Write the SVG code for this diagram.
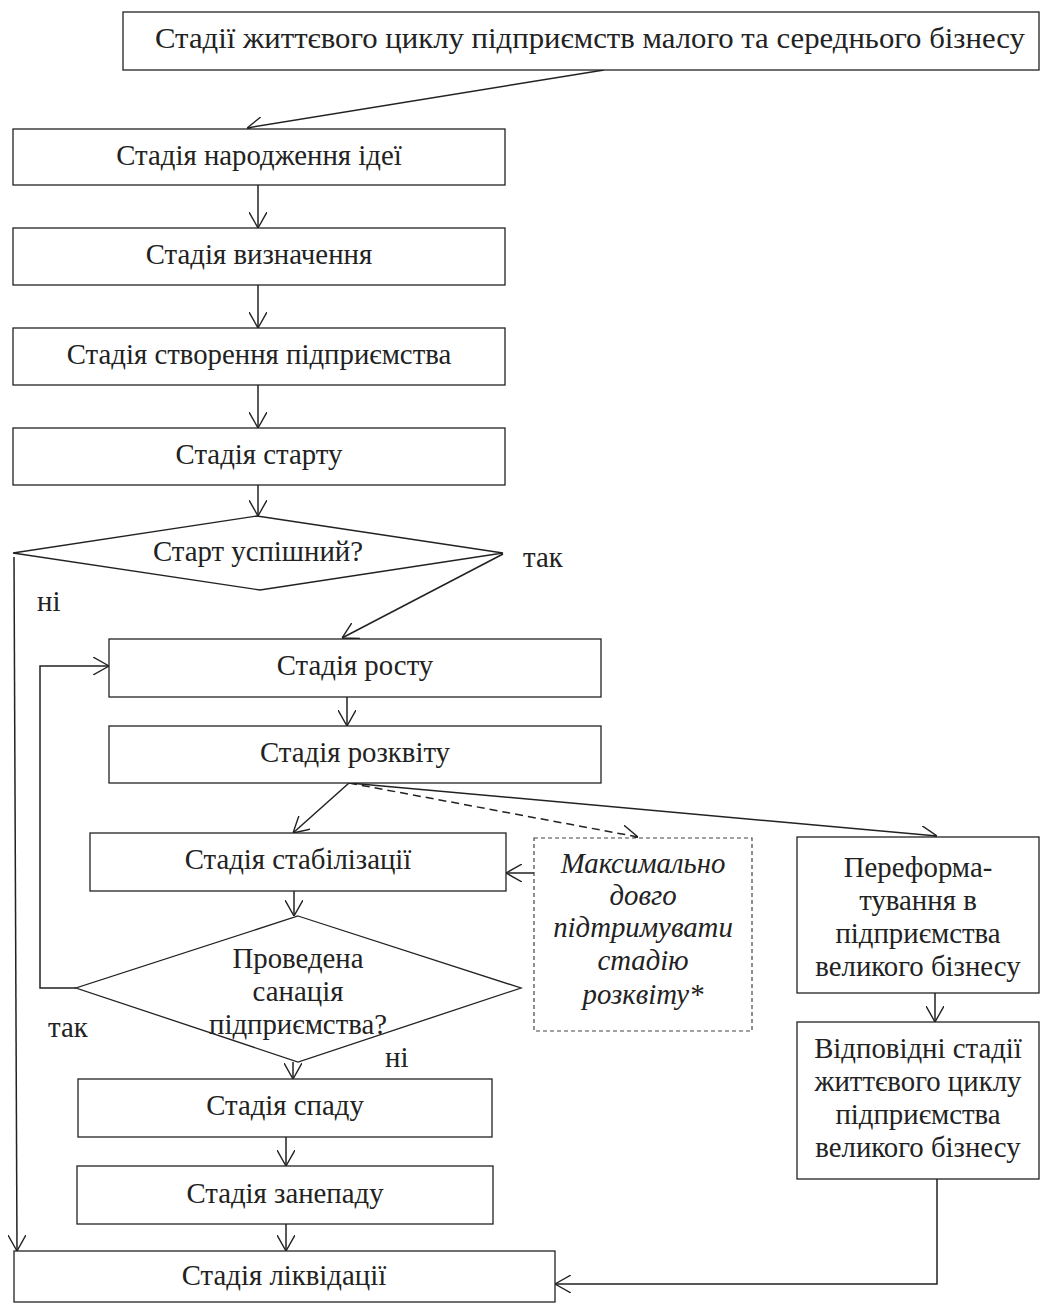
<svg xmlns="http://www.w3.org/2000/svg" width="1043" height="1303" viewBox="0 0 1043 1303">
<style>
.box{fill:#fff;stroke:#222;stroke-width:1.3}
.dbox{fill:#fff;stroke:#444;stroke-width:1.2;stroke-dasharray:4 3}
.t{font-family:"Liberation Serif","Times New Roman",serif;font-size:28.8px;fill:#222;text-anchor:middle}
.l{font-family:"Liberation Serif","Times New Roman",serif;font-size:28.8px;fill:#222}
.i{font-style:italic}
.c{fill:none;stroke:#222;stroke-width:1.5}
.dc{fill:none;stroke:#222;stroke-width:1.5;stroke-dasharray:8 5}
</style>
<defs>
<marker id="ah" viewBox="0 0 16 18" refX="16" refY="9" markerWidth="16" markerHeight="18" markerUnits="userSpaceOnUse" orient="auto">
<path d="M0,0 L16,9 L0,18" fill="none" stroke="#222" stroke-width="1.4"/>
</marker>
</defs>
<rect width="1043" height="1303" fill="#fff"/>

<g id="connectors">
<line class="c" x1="604" y1="70" x2="247" y2="128" marker-end="url(#ah)"/>
<line class="c" x1="258" y1="185" x2="258" y2="228" marker-end="url(#ah)"/>
<line class="c" x1="258" y1="285" x2="258" y2="328" marker-end="url(#ah)"/>
<line class="c" x1="258" y1="385" x2="258" y2="428" marker-end="url(#ah)"/>
<line class="c" x1="258" y1="485" x2="258" y2="516" marker-end="url(#ah)"/>
<line class="c" x1="503" y1="554" x2="342" y2="638" marker-end="url(#ah)"/>
<polyline class="c" points="14,557 17,1251" marker-end="url(#ah)"/>
<line class="c" x1="347" y1="697" x2="347" y2="726" marker-end="url(#ah)"/>
<line class="c" x1="349" y1="783" x2="293" y2="833" marker-end="url(#ah)"/>
<line class="dc" x1="349" y1="783" x2="638" y2="837" marker-end="url(#ah)"/>
<line class="c" x1="349" y1="783" x2="937" y2="836" marker-end="url(#ah)"/>
<line class="c" x1="534" y1="873" x2="506" y2="873" marker-end="url(#ah)"/>
<line class="c" x1="294" y1="891" x2="294" y2="916" marker-end="url(#ah)"/>
<polyline class="c" points="76,988 40,988 40,666 109,666" marker-end="url(#ah)"/>
<line class="c" x1="293" y1="1062" x2="293" y2="1079" marker-end="url(#ah)"/>
<line class="c" x1="286" y1="1137" x2="286" y2="1166" marker-end="url(#ah)"/>
<line class="c" x1="286" y1="1224" x2="286" y2="1251" marker-end="url(#ah)"/>
<line class="c" x1="935" y1="993" x2="935" y2="1022" marker-end="url(#ah)"/>
<polyline class="c" points="937,1179 937,1284 555,1284" marker-end="url(#ah)"/>
</g>

<g id="title">
<rect class="box" x="123" y="12" width="916" height="58"/>
<text class="t" x="590" y="48" textLength="870" lengthAdjust="spacingAndGlyphs">Стадії життєвого циклу підприємств малого та середнього бізнесу</text>
</g>
<g id="idea">
<rect class="box" x="13" y="129" width="492" height="56"/>
<text class="t" x="259" y="165">Стадія народження ідеї</text>
</g>
<g id="definition">
<rect class="box" x="13" y="228" width="492" height="57"/>
<text class="t" x="259" y="264">Стадія визначення</text>
</g>
<g id="creation">
<rect class="box" x="13" y="328" width="492" height="57"/>
<text class="t" x="259" y="364">Стадія створення підприємства</text>
</g>
<g id="start">
<rect class="box" x="13" y="428" width="492" height="57"/>
<text class="t" x="259" y="464">Стадія старту</text>
</g>
<g id="decision1">
<polygon class="box" points="257,516 503,553 260,590 13,553"/>
<text class="t" x="258" y="561">Старт успішний?</text>
</g>
<text class="l" x="523" y="567">так</text>
<text class="l" x="37" y="611">ні</text>
<g id="growth">
<rect class="box" x="109" y="639" width="492" height="58"/>
<text class="t" x="355" y="675">Стадія росту</text>
</g>
<g id="flourish">
<rect class="box" x="109" y="726" width="492" height="57"/>
<text class="t" x="355" y="762">Стадія розквіту</text>
</g>
<g id="stabilization">
<rect class="box" x="90" y="833" width="416" height="58"/>
<text class="t" x="298" y="869">Стадія стабілізації</text>
</g>
<g id="note">
<rect class="dbox" x="534" y="838" width="218" height="193"/>
<text class="t i" x="643" y="873">Максимально</text>
<text class="t i" x="643" y="905">довго</text>
<text class="t i" x="643" y="937">підтримувати</text>
<text class="t i" x="643" y="970">стадію</text>
<text class="t i" x="643" y="1004">розквіту*</text>
</g>
<g id="reformat">
<rect class="box" x="797" y="837" width="242" height="156"/>
<text class="t" x="918" y="877">Переформа-</text>
<text class="t" x="918" y="910">тування в</text>
<text class="t" x="918" y="943">підприємства</text>
<text class="t" x="918" y="976">великого бізнесу</text>
</g>
<g id="large">
<rect class="box" x="797" y="1022" width="242" height="157"/>
<text class="t" x="918" y="1058">Відповідні стадії</text>
<text class="t" x="918" y="1091">життєвого циклу</text>
<text class="t" x="918" y="1124">підприємства</text>
<text class="t" x="918" y="1157">великого бізнесу</text>
</g>
<g id="decision2">
<polygon class="box" points="298,916 521,988 298,1062 76,988"/>
<text class="t" x="298" y="968">Проведена</text>
<text class="t" x="298" y="1001">санація</text>
<text class="t" x="298" y="1034">підприємства?</text>
</g>
<text class="l" x="48" y="1037">так</text>
<text class="l" x="385" y="1067">ні</text>
<g id="decline">
<rect class="box" x="78" y="1079" width="414" height="58"/>
<text class="t" x="285" y="1115">Стадія спаду</text>
</g>
<g id="downfall">
<rect class="box" x="77" y="1166" width="416" height="58"/>
<text class="t" x="285" y="1203">Стадія занепаду</text>
</g>
<g id="liquidation">
<rect class="box" x="14" y="1251" width="541" height="51"/>
<text class="t" x="284" y="1285">Стадія ліквідації</text>
</g>
</svg>
